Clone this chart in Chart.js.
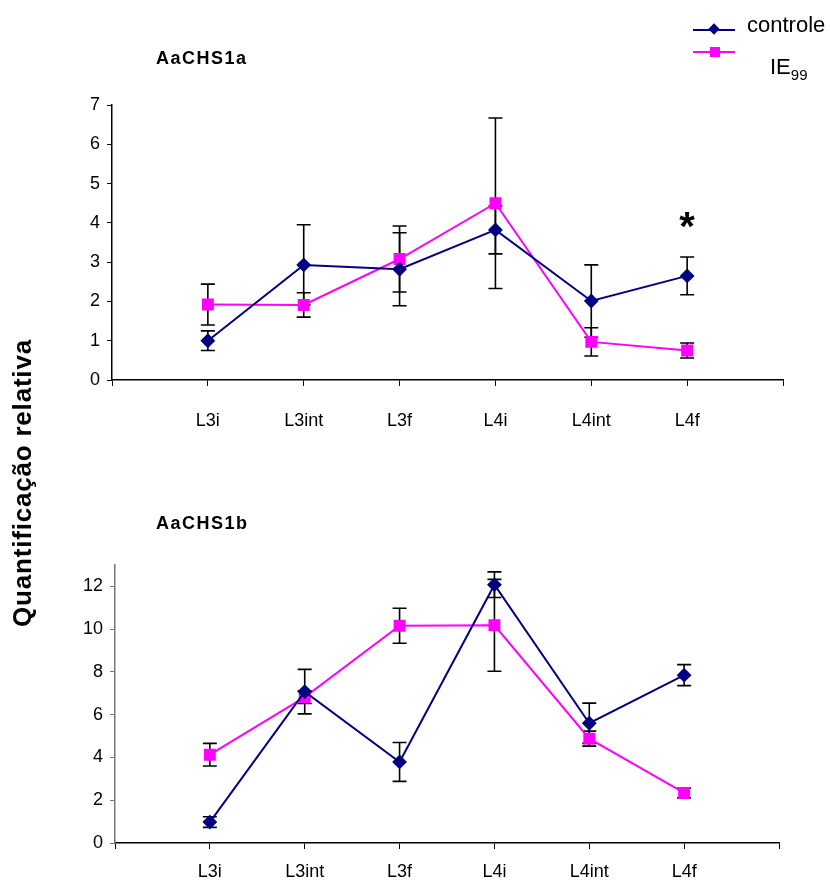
<!DOCTYPE html>
<html>
<head>
<meta charset="utf-8">
<script src="https://cdn.jsdelivr.net/npm/chart.js@4"></script>
<style>
  body { margin: 0; background: #fff; font-family: "Liberation Sans", Arial, sans-serif; }
  #wrap { position: relative; width: 830px; height: 882px; overflow: hidden; }
  canvas { position: absolute; left: 0; }
  .txt { position: absolute; line-height: 1; white-space: nowrap; color: #000; }
  .ttl { font-weight: bold; font-size: 18px; letter-spacing: 1.5px; }
  .lg-line { position: absolute; height: 2px; width: 42px; }
</style>
</head>
<body>
<div id="wrap">
  <canvas id="chartA" width="830" height="440" style="top:0"></canvas>
  <canvas id="chartB" width="830" height="442" style="top:440px"></canvas>

  <div class="txt ttl" style="left:156px; top:49px">AaCHS1a</div>
  <div class="txt ttl" style="left:156px; top:514px">AaCHS1b</div>

  <div class="txt" style="left:-178px; top:470px; width:400px; text-align:center; font-weight:bold; font-size:26px; letter-spacing:0.8px; transform:rotate(-90deg)">Quantificação relativa</div>

  <!-- legenda -->
  <div class="lg-line" style="left:693px; top:29px; background:#000080"></div>
  <div style="position:absolute; left:710px; top:25px; width:8px; height:8px; background:#000080; transform:rotate(45deg)"></div>
  <div class="txt" style="left:747px; top:14px; font-size:22px">controle</div>
  <div class="lg-line" style="left:693px; top:51px; background:#ff00ff"></div>
  <div style="position:absolute; left:710px; top:47px; width:10px; height:10px; background:#ff00ff"></div>
  <div class="txt" style="left:770px; top:56px; font-size:22px">IE<span style="font-size:15px; position:relative; top:6px">99</span></div>
</div>
<script>
// categorias e valores
var categorias = ['L3i', 'L3int', 'L3f', 'L4i', 'L4int', 'L4f'];

var chs1aControle = [1.00, 2.93, 2.82, 3.82, 2.01, 2.65];
var chs1aControleErr = [0.25, 1.02, 0.93, 0.61, 0.92, 0.48];
var chs1aIE99 = [1.92, 1.91, 3.08, 4.50, 0.97, 0.75];
var chs1aIE99Err = [0.52, 0.31, 0.84, 2.17, 0.36, 0.19];

var chs1bControle = [0.98, 7.08, 3.79, 12.08, 5.60, 7.85];
var chs1bControleErr = [0.25, 1.04, 0.91, 0.60, 0.94, 0.49];
var chs1bIE99 = [4.13, 6.82, 10.16, 10.18, 4.88, 2.34];
var chs1bIE99Err = [0.53, 0.30, 0.82, 2.15, 0.35, 0.23];

var yTicksA = [0, 7, 1];   // min, max, passo
var yTicksB = [0, 13, 2];

var asterisco = { categoria: 'L4f', valor: 3.56 };

var fonte = '"Liberation Sans", Arial, sans-serif';

function pontos(valores) {
    return valores.map(function(v, i) { return { x: i + 1, y: v }; });
}

// barras de erro e asterisco
var errorBars = {
    id: 'errorBars',
    beforeDatasetsDraw: function(chart) {
        var ctx = chart.ctx, xs = chart.scales.x, ys = chart.scales.y;
        ctx.save();
        ctx.strokeStyle = '#000';
        ctx.lineWidth = 1.6;
        chart.data.datasets.forEach(function(ds) {
            ds.data.forEach(function(p, i) {
                var e = ds.errors[i];
                var x = xs.getPixelForValue(p.x);
                var y1 = ys.getPixelForValue(p.y + e);
                var y2 = ys.getPixelForValue(p.y - e);
                ctx.beginPath();
                ctx.moveTo(x, y1); ctx.lineTo(x, y2);
                ctx.moveTo(x - 7, y1); ctx.lineTo(x + 7, y1);
                ctx.moveTo(x - 7, y2); ctx.lineTo(x + 7, y2);
                ctx.stroke();
            });
        });
        ctx.restore();
    },
    afterDatasetsDraw: function(chart, args, opts) {
        if (!opts.star) return;
        var ctx = chart.ctx;
        var x = chart.scales.x.getPixelForValue(categorias.indexOf(opts.star.categoria) + 1);
        var y = chart.scales.y.getPixelForValue(opts.star.valor);
        ctx.save();
        ctx.fillStyle = '#000';
        ctx.font = 'bold 40px ' + fonte;
        ctx.textAlign = 'center';
        ctx.textBaseline = 'alphabetic';
        ctx.fillText('*', x, y);
        ctx.restore();
    }
};

function criarGrafico(id, controle, controleErr, ie, ieErr, yt, cfg) {
    var ctx = document.getElementById(id).getContext('2d');
    return new Chart(ctx, {
        type: 'line',
        data: {
            datasets: [{
                label: 'controle',
                data: pontos(controle),
                errors: controleErr,
                borderColor: '#000080',
                backgroundColor: '#000080',
                borderWidth: 2,
                pointStyle: 'rectRot',
                pointRadius: 6,
                pointHoverRadius: 6,
                tension: 0
            }, {
                label: 'IE99',
                data: pontos(ie),
                errors: ieErr,
                borderColor: '#ff00ff',
                backgroundColor: '#ff00ff',
                borderWidth: 2,
                pointStyle: 'rect',
                pointRadius: 7,
                pointHoverRadius: 7,
                tension: 0
            }]
        },
        options: {
            responsive: false,
            animation: false,
            events: [],
            layout: { padding: cfg.padding },
            plugins: {
                legend: { display: false },
                tooltip: { enabled: false },
                errorBars: { star: cfg.star }
            },
            scales: {
                x: {
                    type: 'linear',
                    min: 0,
                    max: categorias.length + 1,
                    afterFit: function(s) { s.height = cfg.xHeight; },
                    afterBuildTicks: function(s) {
                        s.ticks = [];
                        for (var i = 0; i <= categorias.length + 1; i++) s.ticks.push({ value: i });
                    },
                    ticks: {
                        autoSkip: false,
                        maxRotation: 0,
                        padding: cfg.xPad,
                        color: '#000',
                        font: { family: fonte, size: 18 },
                        callback: function(v) { return categorias[v - 1] || ''; }
                    },
                    grid: { drawOnChartArea: false, drawTicks: true, tickLength: 6, tickColor: '#000', color: '#000' },
                    border: { color: '#000', width: 1.5 }
                },
                y: {
                    min: yt[0],
                    max: yt[1],
                    afterFit: function(s) { s.width = cfg.yWidth; },
                    ticks: {
                        stepSize: yt[2],
                        includeBounds: false,
                        padding: 7,
                        color: '#000',
                        font: { family: fonte, size: 18 }
                    },
                    grid: { drawOnChartArea: false, drawTicks: true, tickLength: 5, tickColor: cfg.yColor, color: cfg.yColor },
                    border: { color: cfg.yColor, width: 1.5 }
                }
            }
        },
        plugins: [errorBars]
    });
}

criarGrafico('chartA', chs1aControle, chs1aControleErr, chs1aIE99, chs1aIE99Err, yTicksA, {
    padding: { left: 0, right: 47, top: 105, bottom: 0 },
    xHeight: 60, yWidth: 112, xPad: 24, yColor: '#000', star: asterisco
});
criarGrafico('chartB', chs1bControle, chs1bControleErr, chs1bIE99, chs1bIE99Err, yTicksB, {
    padding: { left: 0, right: 51, top: 125, bottom: 0 },
    xHeight: 39, yWidth: 115, xPad: 12, yColor: '#777', star: null
});
</script>
</body>
</html>
